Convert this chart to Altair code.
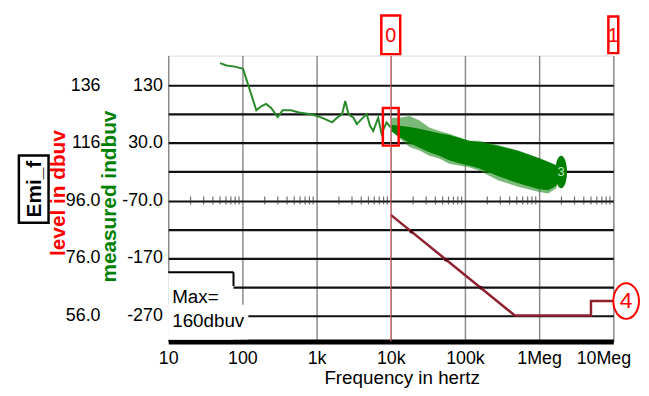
import altair as alt
import pandas as pd

FONT = "Liberation Sans"

# ---- green trace: "measured indbuv" (left inner axis) ----
line_freq = [50, 61, 79, 102, 154, 179, 209, 244, 299, 349, 450, 581, 832, 1021,
             1240, 1619, 1888, 2202, 2436, 2698, 3142, 3489, 4064, 4742, 5248,
             5808, 6772, 7516, 8770, 10000]
line_val = [169, 165, 163, 159, 87, 94, 98, 91, 75, 87, 87, 83, 80, 77,
            73, 66, 74, 80, 103, 80, 74, 63, 72, 80, 60,
            51, 74, 46, 66, 57]

band_freq = [10300, 13200, 17900, 24400, 33100, 45000, 61200, 83200, 113000,
             154000, 284000, 525000, 970000, 1320000, 1690000, 1960000]
band_top = [74, 74, 77, 69, 57, 51, 46, 40, 34, 34, 26, 17, 5, -2, -8, -14]
band_bot = [51, 38, 23, 17, 8, 3, -6, -9, -12, -18, -35, -46, -55, -58, -49, -26]
core_top = [62, 60, 58, 55, 51, 47, 44, 39, 34, 32, 25, 16, 4, -3, -9, -15]
core_bot = [50, 40, 30, 22, 14, 8, 0, -5, -9, -14, -28, -40, -50, -52, -45, -25]

# ---- red trace: "level in dbuv" (outer axis) ----
red_freq = [10000, 470000, 5000000, 5000000, 10000000]
red_val = [91, 56, 56, 61, 61]
red_dot_freq = [18900, 55300, 162000]
red_dot_val = [85.2, 75.4, 65.7]

# ---- axes ----
x_ticks = [10, 100, 1000, 10000, 100000, 1000000, 10000000]
x_tick_labels = ["10", "100", "1k", "10k", "100k", "1Meg", "10Meg"]
red_grid = [56, 66, 76, 86, 96, 106, 116, 126, 136]
red_labeled = [56, 76, 96, 116, 136]
green_ticks = [-270, -170, -70, 30, 130]
minor_mult = [2, 3, 4, 5, 6, 7, 8, 9]
minor_decades = [10, 100, 1000, 10000, 100000, 1000000]
minor_row_level = 96

cursor_freq = [10000]
cursor_top_labels = ["0", "1"]
cursor_top_freq = [10000, 10000000]

df_line = pd.DataFrame({"f": line_freq, "v": line_val})
df_band = pd.DataFrame({"f": band_freq, "top": band_top, "bot": band_bot,
                        "ctop": core_top, "cbot": core_bot})
df_red = pd.DataFrame({"f": red_freq, "v": red_val, "o": list(range(len(red_freq)))})
df_dots = pd.DataFrame({"f": red_dot_freq, "v": red_dot_val})
df_minor = pd.DataFrame({"f": [m * d for d in minor_decades for m in minor_mult],
                         "v": minor_row_level})
df_cursor = pd.DataFrame({"f": cursor_freq})
df_one = pd.DataFrame({"a": [0]})

x_expr = " : ".join(
    f"datum.value < {v * 3.1623} ? '{l}'" for v, l in zip(x_ticks[:-1], x_tick_labels[:-1])
) + f" : '{x_tick_labels[-1]}'"

xscale = alt.Scale(type="log", domain=[10, 1e7], nice=False)
xaxis = alt.Axis(values=x_ticks, labelExpr=x_expr, title="Frequency in hertz",
                 grid=True, gridColor="#8c8c8c", gridWidth=1.5,
                 ticks=False, tickSize=0, labelPadding=8,
                 labelFont=FONT, labelFontSize=18, labelColor="black",
                 labelFlush=False, labelOverlap=False, labelBound=False,
                 labelOffset={"condition": {"test": "datum.value > 5000000", "value": -10},
                              "value": 0},
                 titleFont=FONT, titleFontSize=19, titleFontWeight="normal",
                 titleColor="black", titleX=236, titleY=28, titleBaseline="top",
                 titleAlign="center", domainColor="black", domainWidth=5)

gscale = alt.Scale(domain=[-315.3, 182.15], nice=False, zero=False)
gaxis = alt.Axis(orient="left", values=green_ticks,
                 labelExpr="abs(datum.value) >= 100 ? toString(datum.value) : toString(datum.value) + '.0'",
                 grid=False, ticks=False, tickSize=0, domain=False, labelPadding=6,
                 labelFont=FONT, labelFontSize=18, labelColor="black",
                 title="measured indbuv", titleColor="#008000", titleFont=FONT,
                 titleFontSize=21, titleFontWeight="bold", titleAngle=270,
                 titleX=-49, titleY=142, titleAlign="center", titleBaseline="bottom")

rscale = alt.Scale(domain=[46.95, 146.43], nice=False, zero=False)
raxis = alt.Axis(orient="left", offset=65, values=red_grid,
                 labelExpr=f"indexof({red_labeled}, datum.value) >= 0 ? (datum.value >= 100 ? toString(datum.value) : toString(datum.value) + '.0') : ''",
                 grid=True, gridColor="#111111", gridWidth=2.2,
                 ticks=False, tickSize=0, domain=False, labelPadding=4,
                 labelFont=FONT, labelFontSize=18, labelColor="black",
                 title="level in dbuv", titleColor="#ff0000", titleFont=FONT,
                 titleFontSize=21, titleFontWeight="bold", titleAngle=270,
                 titleX=-36, titleY=138.5, titleAlign="center", titleBaseline="bottom")


def X(field):
    return alt.X(field, type="quantitative", scale=xscale, axis=xaxis)


def GY(field):
    return alt.Y(field, type="quantitative", scale=gscale, axis=gaxis)


def RY(field):
    return alt.Y(field, type="quantitative", scale=rscale, axis=raxis)


# ---------------- green layers ----------------
g_line = alt.Chart(df_line).mark_line(color="#2a8a2a", strokeWidth=2).encode(
    x=X("f"), y=GY("v"))
g_band_light = alt.Chart(df_band).mark_area(color="#1f8c1f", opacity=0.6, line=False).encode(
    x=X("f"), y=GY("top"), y2="bot")
g_band = alt.Chart(df_band).mark_area(color="#008000", opacity=1, line=False).encode(
    x=X("f"), y=GY("ctop"), y2="cbot")
df_m3 = pd.DataFrame({"f": [1980000], "v": [-20.4], "t": ["3"]})
g_m3 = alt.Chart(df_m3).mark_point(
    shape="M0,-1 A0.36,1 0 1,1 0,1 A0.36,1 0 1,1 0,-1 Z",
    size=1089, filled=True, color="#008000", opacity=1).encode(x=X("f"), y=GY("v"))
g_m3t = alt.Chart(df_m3).mark_text(font=FONT, fontSize=13, color="#b8e6b8",
                                   baseline="middle", align="center").encode(
    x=X("f"), y=GY("v"), text="t:N")
df_box10k = pd.DataFrame({"f": [10000], "v": [58.2]})
g_box = alt.Chart(df_box10k).mark_point(
    shape="M-0.42,-1 H0.42 V1 H-0.42 Z", size=1444, filled=False,
    color="#ff0000", strokeWidth=2.5, opacity=1).encode(x=X("f"), y=GY("v"))

green = alt.layer(g_line, g_band_light, g_band, g_box, g_m3, g_m3t)

# ---------------- red layers ----------------
r_minor = alt.Chart(df_minor).mark_tick(orient="vertical", size=8, thickness=1.2,
                                        color="#333333").encode(x=X("f"), y=RY("v"))
r_line = alt.Chart(df_red).mark_line(color="#8e2030", strokeWidth=2.5).encode(
    x=X("f"), y=RY("v"), order="o:Q")
r_dots = alt.Chart(df_dots).mark_point(filled=True, size=14, color="#4a0810",
                                       opacity=1).encode(x=X("f"), y=RY("v"))
df_m4 = pd.DataFrame({"v": [61], "t": ["4"]})
r_m4 = alt.Chart(df_m4).mark_point(
    shape="M0,-1 A0.72,1 0 1,1 0,1 A0.72,1 0 1,1 0,-1 Z", size=1296,
    filled=True, fill="white", stroke="#ff0000", strokeWidth=2, opacity=1).encode(
    x=alt.value(463), y=RY("v"))
r_m4t = alt.Chart(df_m4).mark_text(font=FONT, fontSize=23, color="#ff0000",
                                   baseline="middle", align="center").encode(
    x=alt.value(463), y=RY("v"), text="t:N")

red = alt.layer(r_minor, r_line, r_dots, r_m4, r_m4t)

# ---------------- cursor & annotations ----------------
cursor = alt.Chart(df_cursor).mark_rule(color="#e87070", strokeWidth=1).encode(x=X("f"))

df_top = pd.DataFrame({"f": cursor_top_freq, "t": cursor_top_labels,
                       "shape": ["M-0.49,-1 H0.49 V1 H-0.49 Z", "M-0.27,-1 H0.27 V1 H-0.27 Z"],
                       "s": [1521, 1369]})
top_boxes = alt.Chart(df_top).mark_point(filled=False, color="#ff0000", strokeWidth=2.5,
                                         opacity=1).encode(
    x=X("f"), y=alt.value(-21), shape=alt.Shape("shape:N", scale=None),
    size=alt.Size("s:Q", scale=None))
top_text = alt.Chart(df_top).mark_text(font=FONT, fontSize=20, color="#ff0000",
                                       baseline="middle", align="center", dy=1).encode(
    x=X("f"), y=alt.value(-21), text="t:N")

max_bg = alt.Chart(df_one).mark_rect(color="white").encode(
    x=alt.value(0), x2=alt.value(66), y=alt.value(219), y2=alt.value(287))
max_bg2 = alt.Chart(df_one).mark_rect(color="white").encode(
    x=alt.value(0), x2=alt.value(81), y=alt.value(252), y2=alt.value(287))
max_top = alt.Chart(df_one).mark_rule(color="black", strokeWidth=2).encode(
    x=alt.value(0), x2=alt.value(66), y=alt.value(219))
max_right = alt.Chart(df_one).mark_rule(color="black", strokeWidth=2).encode(
    x=alt.value(66), y=alt.value(219), y2=alt.value(233))
max_t1 = alt.Chart(df_one).mark_text(text="Max=", font=FONT, fontSize=19, color="black",
                                     align="left", baseline="middle").encode(
    x=alt.value(4), y=alt.value(244))
max_t2 = alt.Chart(df_one).mark_text(text="160dbuv", font=FONT, fontSize=19, color="black",
                                     align="left", baseline="middle").encode(
    x=alt.value(4), y=alt.value(268))

emi_box = alt.Chart(df_one).mark_rect(fill="white", stroke="black", strokeWidth=2.5).encode(
    x=alt.value(-151), x2=alt.value(-121), y=alt.value(101), y2=alt.value(169))
emi_t = alt.Chart(df_one).mark_text(text="Emi_f", font=FONT, fontSize=21, fontWeight="bold",
                                    color="black", angle=270, align="center",
                                    baseline="middle").encode(
    x=alt.value(-135), y=alt.value(135))

annot = alt.layer(cursor, top_boxes, top_text, max_bg, max_bg2, max_top, max_right,
                  max_t1, max_t2, emi_box, emi_t)

chart = alt.layer(red, green, annot).resolve_scale(y="independent").properties(
    width=450, height=289,
    autosize=alt.AutoSizeParams(type="none"),
    padding={"left": 162, "top": 46, "right": 28, "bottom": 50},
).configure_view(stroke="black", strokeWidth=3).configure(background="white")

chart.save("out.html", embed_options={"renderer": "svg", "actions": False})
